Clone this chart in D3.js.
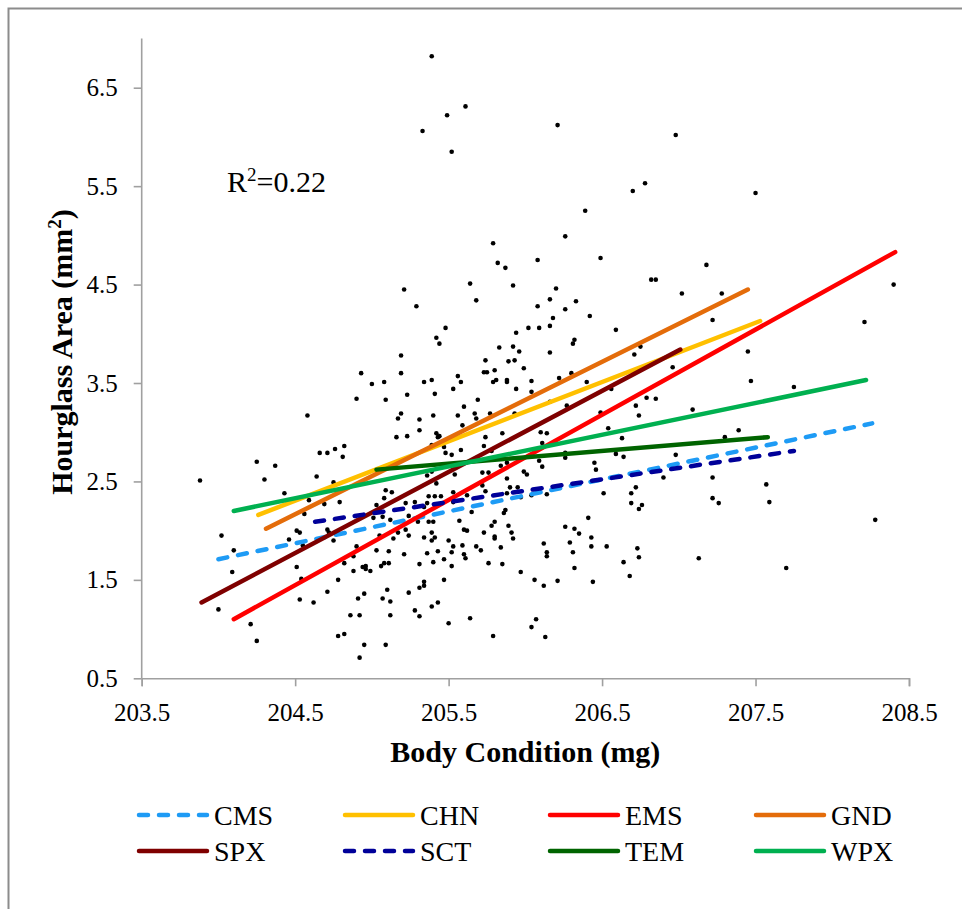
<!DOCTYPE html>
<html>
<head>
<meta charset="utf-8">
<script src="https://cdn.jsdelivr.net/npm/d3@7/dist/d3.min.js"></script>
<style>
  body { margin: 0; background: #fff; }
  text { font-family: "Liberation Serif", "Times New Roman", serif; fill: #000; }
</style>
</head>
<body>
<script>
// Hourglass area vs body condition, scatter + per-site regression lines

const w = 962;
const h = 909;

// scatter points [body condition (mg), hourglass area (mm2)]
const dots = [
  [205.21,4.45],[205.29,4.28],[205.19,3.78],[204.93,3.60],[205.19,3.60],[205.00,3.49],[205.08,3.51],[204.90,3.34],[205.09,3.33],[205.23,3.38],
  [204.58,3.17],[205.19,3.19],[205.17,3.14],[205.31,3.13],[205.16,2.95],[205.23,2.96],[205.31,3.02],[204.25,2.70],[204.37,2.66],[204.66,2.79],
  [204.71,2.79],[204.76,2.83],[204.82,2.86],[204.81,2.75],[203.88,2.51],[204.30,2.52],[204.64,2.55],
  [205.64,4.51],[205.92,4.49],[206.20,4.46],[205.68,4.34],[206.16,4.35],[206.33,4.33],[206.08,4.28],[206.26,4.25],[206.42,4.18],[206.18,4.16],
  [205.48,4.06],[206.02,4.06],[206.09,4.06],[206.16,4.08],[205.94,4.01],[206.59,4.04],[205.42,3.96],[205.44,3.90],[206.32,3.94],[206.31,3.90],
  [205.83,3.86],[205.92,3.87],[205.96,3.82],[206.16,3.81],[206.71,3.79],[206.75,3.87],[205.74,3.73],[205.89,3.72],[205.93,3.73],[205.99,3.65],
  [205.73,3.61],[205.75,3.61],[205.80,3.63],[206.30,3.60],[205.56,3.57],[205.34,3.51],[205.39,3.53],[205.58,3.51],[205.79,3.51],[205.81,3.53],
  [205.88,3.53],[205.88,3.51],[206.04,3.52],[206.22,3.55],[206.40,3.51],[205.53,3.44],[205.94,3.44],[205.41,3.39],[206.04,3.41],[206.56,3.44],
  [205.69,3.33],[206.79,3.35],[206.85,3.34],[205.60,3.26],[206.27,3.27],[206.16,3.31],[206.72,3.27],[205.40,3.17],[205.56,3.17],[205.67,3.19],
  [205.68,3.14],[205.77,3.19],[205.93,3.19],[206.49,3.20],[206.74,3.17],[205.59,3.07],[205.42,2.99],[205.43,2.95],[205.44,2.96],[205.74,2.95],
  [205.85,2.99],[206.10,3.00],[206.14,2.99],[206.54,3.04],[206.63,2.94],[205.39,2.87],[205.47,2.85],[205.73,2.86],[206.11,2.89],[205.58,2.82],
  [205.48,2.79],[205.52,2.77],[205.78,2.81],[206.59,2.78],[206.64,2.75],[206.26,2.79],[206.26,2.74],[206.09,2.71],[206.45,2.69],[205.84,2.66],
  [205.88,2.69],[205.39,2.60],[205.54,2.57],[205.72,2.59],[205.76,2.59],[205.99,2.60],[206.01,2.57],[206.46,2.62],[206.11,2.65],[205.88,2.53],
  [205.39,6.82],[205.61,6.31],[205.49,6.22],[205.33,6.06],[205.52,5.85],[206.21,6.12],[206.98,6.02],[206.70,5.45],[206.78,5.53],[206.39,5.25],
  [206.26,4.99],[205.79,4.92],[205.82,4.72],[205.87,4.67],[206.08,4.75],[206.49,4.77],[206.82,4.55],[206.85,4.55],[207.02,4.41],
  [204.75,2.49],[204.43,2.38],[204.59,2.31],[204.69,2.27],[204.79,2.29],[205.09,2.41],[205.13,2.39],[205.08,2.33],[205.03,2.26],[205.22,2.28],
  [205.28,2.29],[204.56,2.17],[205.07,2.14],[205.01,2.13],[205.12,2.11],[205.24,2.15],[205.30,2.09],[204.02,1.95],[204.51,2.00],[204.53,1.98],
  [204.71,2.01],[204.72,1.98],[205.05,1.95],[205.17,1.98],[205.22,2.01],[205.24,1.95],[204.46,1.91],[204.75,1.90],[205.14,1.92],[204.10,1.80],
  [204.55,1.85],[204.90,1.84],[205.03,1.80],[205.11,1.79],[205.21,1.76],[204.88,1.74],[204.09,1.58],[204.51,1.63],[204.82,1.67],[204.88,1.59],
  [204.94,1.63],[204.96,1.64],[204.96,1.61],[204.99,1.59],[205.06,1.64],[205.08,1.67],[205.11,1.67],[205.31,1.66],[204.54,1.51],[204.78,1.50],
  [204.71,1.38],[204.95,1.36],[205.10,1.40],[205.31,1.42],[204.53,1.30],[204.62,1.27],[204.91,1.31],[205.07,1.31],[205.12,1.28],[205.24,1.37],
  [204.00,1.20],[205.28,1.19],[205.31,1.13],[204.86,1.14],[204.92,1.14],[205.12,1.14],[204.21,1.05],[204.25,0.88],[204.78,0.93],[204.82,0.95],
  [204.95,0.84],[205.09,0.84],[204.92,0.71],
  [205.36,2.56],[205.42,2.48],[205.72,2.46],[205.90,2.44],[205.95,2.44],[206.72,2.44],[205.37,2.35],[205.41,2.35],[205.45,2.35],[205.53,2.39],
  [205.62,2.36],[205.74,2.40],[205.88,2.38],[205.97,2.34],[206.04,2.36],[206.14,2.37],[206.51,2.38],[206.69,2.38],[206.69,2.28],[205.53,2.29],
  [205.36,2.28],[205.34,2.24],[206.76,2.26],[206.74,2.22],[205.65,2.19],[205.87,2.21],[205.86,2.18],[205.37,2.09],[205.40,2.09],[205.57,2.10],
  [205.78,2.05],[205.80,2.09],[205.89,2.05],[206.41,2.13],[205.60,2.01],[205.62,2.00],[205.73,1.98],[205.91,1.98],[206.26,2.04],[206.32,2.02],
  [206.35,1.97],[205.39,1.98],[205.34,1.93],[205.41,1.93],[205.39,1.90],[205.50,1.90],[205.80,1.94],[205.80,1.92],[205.92,1.92],[206.43,1.93],
  [206.29,1.88],[206.12,1.87],[205.53,1.84],[205.59,1.85],[205.68,1.84],[205.84,1.83],[206.43,1.84],[206.53,1.84],[206.73,1.82],[205.71,1.80],
  [205.43,1.79],[205.36,1.77],[205.52,1.78],[205.60,1.76],[206.14,1.78],[206.31,1.78],[205.61,1.72],[206.14,1.74],[205.47,1.71],[205.40,1.68],
  [205.76,1.67],[205.85,1.66],[206.74,1.73],[206.64,1.68],[205.52,1.64],[206.32,1.62],[205.97,1.58],[206.68,1.54],[205.47,1.50],[206.06,1.50],
  [206.21,1.49],[206.44,1.48],[206.12,1.44],[205.34,1.48],[205.34,1.44],[205.43,1.27],[205.39,1.23],[205.64,1.11],[205.50,1.06],[206.07,1.10],
  [206.04,1.02],[205.79,0.93],[206.13,0.92],
  [207.50,5.43],[207.18,4.70],[207.28,4.41],[208.40,4.50],[208.21,4.12],[207.22,4.14],[207.45,3.82],[207.47,3.52],[207.75,3.46],[207.09,3.23],
  [206.96,3.66],[207.30,2.95],[207.39,3.02],[206.98,2.77],[206.90,2.54],[207.22,2.54],[207.22,2.33],[207.26,2.28],[207.57,2.47],[207.59,2.29],
  [207.13,1.72],[207.70,1.62],[208.28,2.11]
];

// regression lines per site
const sites      = ["CMS", "CHN", "EMS", "GND", "SPX", "SCT", "TEM", "WPX"];
const siteColors = ["#1e9bf5", "#ffc000", "#ff0000", "#e46c0a", "#7f0000", "#000099", "#006400", "#00b050"];
const siteDashed = [true, false, false, false, false, true, false, false];
const fitStart   = [[204.00,1.71],[204.26,2.16],[204.10,1.10],[204.31,2.02],[203.89,1.27],[204.63,2.09],[205.03,2.62],[204.10,2.20]];
const fitEnd     = [[208.26,3.09],[207.53,4.13],[208.41,4.83],[207.45,4.45],[207.01,3.84],[207.75,2.81],[207.58,2.95],[208.22,3.53]];

// axes
const xTicks = [203.5, 204.5, 205.5, 206.5, 207.5, 208.5];
const yTicks = [0.5, 1.5, 2.5, 3.5, 4.5, 5.5, 6.5];
const rSquared = "0.22";

const padL = 141.7, padR = 909, padT = 38.5, padB = 678.3;
const axisGrey = "#a0a0a0";

let svg = d3.select("body")
    .append("svg")
    .attr("width", w)
    .attr("height", h)

// outer frame
svg.append("rect")
    .attr("x", 8.5).attr("y", 8.5)
    .attr("width", 1000).attr("height", 1000)
    .attr("fill", "none")
    .attr("stroke", "#8c8c8c")
    .attr("stroke-width", 2)

let x = d3.scaleLinear().domain([203.5, 208.5]).range([padL, padR]);
let y = d3.scaleLinear().domain([0.5, 7.0]).range([padB, padT]);

let xAxis = svg.append("g")
    .attr("transform", "translate(0," + padB + ")")
    .call(d3.axisBottom(x).tickValues(xTicks).tickSize(8).tickPadding(17).tickFormat(d3.format(".1f")));

let yAxis = svg.append("g")
    .attr("transform", "translate(" + padL + ",0)")
    .call(d3.axisLeft(y).tickValues(yTicks).tickSize(8).tickPadding(16).tickFormat(d3.format(".1f")));

[xAxis, yAxis].forEach(function (g) {
    g.select(".domain").attr("stroke", axisGrey).attr("stroke-width", 1.6);
    g.selectAll(".tick line").attr("stroke", axisGrey).attr("stroke-width", 1.6);
    g.selectAll(".tick text")
        .attr("fill", "#000")
        .style("font-family", '"Liberation Serif", serif')
        .style("font-size", "25px");
});
// axisLeft draws the domain only over the tick range; extend it to 7.0
yAxis.select(".domain").attr("d", "M0," + y(7.0) + "V" + y(0.5));

// scatter
svg.append("g")
    .selectAll("circle")
    .data(dots)
    .enter()
    .append("circle")
    .attr("cx", d => x(d[0]))
    .attr("cy", d => y(d[1]))
    .attr("r", 2.3)
    .attr("fill", "#000")

// fitted lines
svg.append("g")
    .selectAll("line")
    .data(sites)
    .enter()
    .append("line")
    .attr("x1", (d, i) => x(fitStart[i][0]))
    .attr("y1", (d, i) => y(fitStart[i][1]))
    .attr("x2", (d, i) => x(fitEnd[i][0]))
    .attr("y2", (d, i) => y(fitEnd[i][1]))
    .attr("stroke", (d, i) => siteColors[i])
    .attr("stroke-width", 4.5)
    .attr("stroke-linecap", "round")
    .attr("stroke-dasharray", (d, i) => siteDashed[i] ? "9,11" : null)

// R squared note
let r2 = svg.append("text")
    .attr("x", 227)
    .attr("y", 192)
    .style("font-size", "30px")
r2.append("tspan").text("R");
r2.append("tspan").attr("dy", -11).style("font-size", "19px").text("2");
r2.append("tspan").attr("dy", 11).text("=" + rSquared);

// axis titles
svg.append("text")
    .attr("x", (padL + padR) / 2)
    .attr("y", 762)
    .attr("text-anchor", "middle")
    .style("font-size", "30px")
    .style("font-weight", "bold")
    .text("Body Condition (mg)")

let yt = svg.append("text")
    .attr("transform", "translate(72,352) rotate(-90)")
    .attr("text-anchor", "middle")
    .style("font-size", "30px")
    .style("font-weight", "bold")
yt.append("tspan").text("Hourglass Area (mm");
yt.append("tspan").attr("dy", -11).style("font-size", "19px").text("2");
yt.append("tspan").attr("dy", 11).text(")");

// legend, 4 columns x 2 rows
const legX = [137, 343, 548, 754];
const legY = [815, 851];
let leg = svg.append("g")
    .selectAll("g")
    .data(sites)
    .enter()
    .append("g")
    .attr("transform", (d, i) => "translate(" + legX[i % 4] + "," + legY[Math.floor(i / 4)] + ")")

leg.append("line")
    .attr("x1", 2).attr("x2", 70)
    .attr("stroke", (d, i) => siteColors[i])
    .attr("stroke-width", 4.5)
    .attr("stroke-linecap", "round")
    .attr("stroke-dasharray", (d, i) => siteDashed[i] ? "9,11" : null)

leg.append("text")
    .attr("x", 77)
    .attr("y", 10)
    .style("font-size", "28px")
    .text(d => d)
</script>
</body>
</html>
